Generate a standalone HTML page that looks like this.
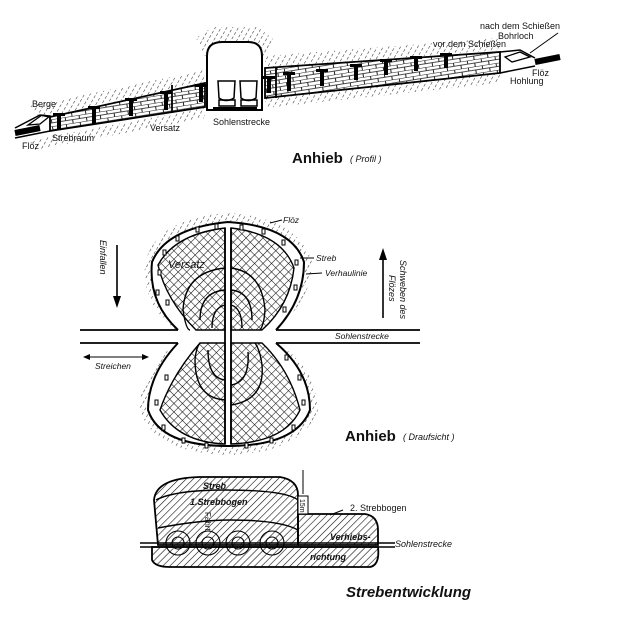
<!DOCTYPE html>
<html><head><meta charset="utf-8"><style>
html,body{margin:0;padding:0;background:#fff;}
svg{display:block}
text{font-family:"Liberation Sans",sans-serif;fill:#111}
</style></head><body>
<svg width="617" height="620" viewBox="0 0 617 620" xmlns="http://www.w3.org/2000/svg">
<defs>
<pattern id="diag" width="5" height="5" patternUnits="userSpaceOnUse" patternTransform="rotate(45)">
<line x1="0" y1="0" x2="0" y2="5" stroke="#111" stroke-width="1.2"/></pattern>
<pattern id="rock" width="5" height="5" patternUnits="userSpaceOnUse" patternTransform="rotate(30)">
<line x1="0" y1="0" x2="0" y2="3" stroke="#333" stroke-width="1.1"/></pattern>
<pattern id="cross" width="6" height="6" patternUnits="userSpaceOnUse" patternTransform="rotate(45)">
<line x1="0" y1="0" x2="0" y2="6" stroke="#111" stroke-width="1.1"/>
<line x1="0" y1="0" x2="6" y2="0" stroke="#111" stroke-width="1.1"/></pattern>
<pattern id="brick" width="14" height="7" patternUnits="userSpaceOnUse" patternTransform="rotate(-9)">
<rect width="14" height="7" fill="#fff"/>
<line x1="0" y1="0" x2="14" y2="0" stroke="#222" stroke-width="1"/>
<line x1="4" y1="0" x2="4" y2="3.5" stroke="#222" stroke-width="1"/>
<line x1="0" y1="3.5" x2="14" y2="3.5" stroke="#222" stroke-width="0.8"/>
<line x1="11" y1="3.5" x2="11" y2="7" stroke="#222" stroke-width="1"/></pattern>
</defs>

<!-- ===== PROFILE ===== -->
<polygon points="30,106 205,70 205,82 40,118" fill="url(#rock)"/>
<polygon points="265,56 500,38 500,50 265,68" fill="url(#rock)"/>
<polygon points="196,38 213,27 258,27 274,40 265,56 205,56" fill="url(#rock)"/>
<polygon points="30,140 205,108 205,118 35,150" fill="url(#rock)"/>
<polygon points="265,98 500,73 500,83 265,108" fill="url(#rock)"/>
<polygon points="50,117 205,83 205,107 50,131" fill="url(#brick)" stroke="#000" stroke-width="1.8"/>
<polygon points="265,68 500,52 500,73 265,98" fill="url(#brick)" stroke="#000" stroke-width="1.8"/>
<polyline points="15,133 40,128" stroke="#000" stroke-width="6"/>
<polyline points="15,128 40,115 50,117" fill="none" stroke="#000" stroke-width="1.5"/>
<polyline points="15,138 50,131" fill="none" stroke="#000" stroke-width="1.5"/>
<polygon points="28,125 42,115 50,116 40,124" fill="none" stroke="#000" stroke-width="1.3"/>
<polyline points="535,62 560,57" stroke="#000" stroke-width="6"/>
<polyline points="500,52 520,50 535,58" fill="none" stroke="#000" stroke-width="1.5"/>
<polyline points="500,73 535,66" fill="none" stroke="#000" stroke-width="1.5"/>
<polygon points="505,57 520,52 530,57 512,62" fill="none" stroke="#000" stroke-width="1.3"/>
<g fill="#000">
<rect x="53" y="113" width="12" height="3"/><rect x="57" y="114" width="4" height="16"/>
<rect x="88" y="106" width="12" height="3"/><rect x="92" y="107" width="4" height="17"/>
<rect x="125" y="98" width="12" height="3"/><rect x="129" y="99" width="4" height="17"/>
<rect x="160" y="91" width="12" height="3"/><rect x="164" y="92" width="4" height="18"/>
<rect x="195" y="84" width="12" height="3"/><rect x="199" y="85" width="4" height="17"/>
<rect x="263" y="76" width="12" height="3"/><rect x="267" y="77" width="4" height="16"/>
<rect x="283" y="72" width="12" height="3"/><rect x="287" y="73" width="4" height="18"/>
<rect x="316" y="69" width="12" height="3"/><rect x="320" y="70" width="4" height="16"/>
<rect x="350" y="64" width="12" height="3"/><rect x="354" y="65" width="4" height="15"/>
<rect x="380" y="59" width="12" height="3"/><rect x="384" y="60" width="4" height="15"/>
<rect x="410" y="56" width="12" height="3"/><rect x="414" y="57" width="4" height="14"/>
<rect x="440" y="53" width="12" height="3"/><rect x="444" y="54" width="4" height="14"/>
</g>
<line x1="172" y1="85" x2="172" y2="113" stroke="#000" stroke-width="1.8"/>
<line x1="276" y1="67" x2="276" y2="98" stroke="#000" stroke-width="1.8"/>
<path d="M207,110 L207,56 Q207,42 222,42 L248,42 Q262,42 262,56 L262,110 Z" fill="#fff" stroke="#000" stroke-width="2"/>
<g fill="none" stroke="#000" stroke-width="1.5">
<path d="M218,81 L235,81 L234,98 Q226,103 219,98 Z"/><rect x="219" y="100" width="16" height="6"/>
<path d="M240,81 L257,81 L256,98 Q248,103 241,98 Z"/><rect x="241" y="100" width="16" height="6"/>
</g>
<line x1="213" y1="108" x2="257" y2="108" stroke="#000" stroke-width="2"/>
<line x1="500" y1="52" x2="500" y2="70" stroke="#000"/>
<g font-size="9">
<text x="32" y="107">Berge</text>
<text x="22" y="149">Flöz</text>
<text x="52" y="141">Strebraum</text>
<text x="150" y="131">Versatz</text>
<text x="213" y="125">Sohlenstrecke</text>
<text x="433" y="47">vor dem Schießen</text>
<text x="480" y="29">nach dem Schießen</text>
<text x="498" y="39">Bohrloch</text>
<text x="510" y="84">Hohlung</text>
<text x="532" y="76">Flöz</text>
</g>
<line x1="558" y1="33" x2="530" y2="53" stroke="#000"/>
<text x="292" y="163" font-size="15" font-weight="bold">Anhieb</text>
<text x="350" y="162" font-size="9" font-style="italic">( Profil )</text>

<!-- ===== PLAN VIEW ===== -->
<path d="M176,330 Q138,300 146,260 Q158,218 228,213 Q297,217 312,262 Q312,300 275,330 Z" fill="url(#rock)"/>
<path d="M176,343 Q138,375 140,410 Q153,453 228,455 Q302,453 318,410 Q318,370 278,343 Z" fill="url(#rock)"/>
<path d="M178,330 Q148,302 152,262 Q166,228 228,222 Q292,226 304,262 Q304,300 276,330" fill="#fff" stroke="#000" stroke-width="2"/>
<path d="M178,343 Q148,375 148,410 Q160,446 228,446 Q296,446 310,410 Q310,372 276,343" fill="#fff" stroke="#000" stroke-width="2"/>
<path d="M196,330 Q166,300 158,265 Q175,234 225,228 L225,330 Z" fill="url(#cross)" stroke="#000" stroke-width="1.4"/>
<path d="M231,330 L231,228 Q282,234 294,268 Q290,305 262,330 Z" fill="url(#cross)" stroke="#000" stroke-width="1.4"/>
<path d="M200,343 Q172,375 160,410 Q178,442 225,444 L225,343 Z" fill="url(#cross)" stroke="#000" stroke-width="1.4"/>
<path d="M231,343 L231,444 Q285,442 300,410 Q290,370 262,343 Z" fill="url(#cross)" stroke="#000" stroke-width="1.4"/>
<g fill="none" stroke="#000" stroke-width="1.4">
<path d="M225,268 Q185,272 183,310 Q186,330 190,330"/><path d="M225,290 Q200,292 200,320"/><path d="M225,305 Q212,308 212,328"/>
<path d="M231,268 Q262,272 265,310 Q264,325 260,330"/><path d="M231,290 Q252,292 252,320"/><path d="M231,305 Q242,308 242,328"/>
<path d="M225,400 Q195,398 195,360 Q196,348 200,343"/><path d="M225,380 Q208,378 208,350"/>
<path d="M231,405 Q265,400 262,365 Q260,350 255,343"/><path d="M231,385 Q250,382 248,352"/>
</g>
<g fill="#fff" stroke="#000" stroke-width="1">
<rect x="158" y="270" width="3" height="5"/><rect x="163" y="250" width="3" height="5"/><rect x="176" y="236" width="3" height="5"/><rect x="196" y="227" width="3" height="5"/><rect x="215" y="224" width="3" height="5"/>
<rect x="240" y="225" width="3" height="5"/><rect x="262" y="229" width="3" height="5"/><rect x="282" y="240" width="3" height="5"/><rect x="295" y="260" width="3" height="5"/><rect x="294" y="285" width="3" height="5"/><rect x="283" y="307" width="3" height="5"/>
<rect x="166" y="300" width="3" height="5"/><rect x="156" y="290" width="3" height="5"/>
<rect x="165" y="375" width="3" height="5"/><rect x="155" y="400" width="3" height="5"/><rect x="162" y="425" width="3" height="5"/><rect x="182" y="438" width="3" height="5"/><rect x="205" y="443" width="3" height="5"/>
<rect x="245" y="443" width="3" height="5"/><rect x="270" y="438" width="3" height="5"/><rect x="292" y="425" width="3" height="5"/><rect x="302" y="400" width="3" height="5"/><rect x="298" y="375" width="3" height="5"/><rect x="285" y="355" width="3" height="5"/>
</g>
<text x="168" y="268" font-size="11" font-style="italic">Versatz</text>
<line x1="80" y1="330" x2="178" y2="330" stroke="#000" stroke-width="1.8"/>
<line x1="276" y1="330" x2="420" y2="330" stroke="#000" stroke-width="1.8"/>
<line x1="80" y1="343" x2="178" y2="343" stroke="#000" stroke-width="1.8"/>
<line x1="276" y1="343" x2="420" y2="343" stroke="#000" stroke-width="1.8"/>
<line x1="225" y1="228" x2="225" y2="444" stroke="#000" stroke-width="1.8"/>
<line x1="231" y1="228" x2="231" y2="444" stroke="#000" stroke-width="1.8"/>
<g font-size="8.5" font-style="italic">
<text x="335" y="339">Sohlenstrecke</text>
<text x="283" y="223">Flöz</text>
<text x="316" y="261">Streb</text>
<text x="325" y="276">Verhaulinie</text>
<text x="95" y="369">Streichen</text>
</g>
<line x1="270" y1="223" x2="282" y2="220" stroke="#000"/>
<line x1="300" y1="258" x2="314" y2="258" stroke="#000"/>
<line x1="306" y1="274" x2="322" y2="273" stroke="#000"/>
<text font-size="9" font-style="italic" transform="translate(100,240) rotate(90)">Einfallen</text>
<line x1="117" y1="245" x2="117" y2="300" stroke="#000" stroke-width="1.6"/>
<polygon points="113,296 121,296 117,308" fill="#000"/>
<text font-size="9" font-style="italic" transform="translate(400,260) rotate(90)">Schweben des</text>
<text font-size="9" font-style="italic" transform="translate(389,275) rotate(90)">Flözes</text>
<line x1="383" y1="258" x2="383" y2="318" stroke="#000" stroke-width="1.6"/>
<polygon points="379,260 387,260 383,248" fill="#000"/>
<line x1="86" y1="357" x2="146" y2="357" stroke="#000"/>
<polygon points="83,357 90,354 90,360" fill="#000"/><polygon points="149,357 142,354 142,360" fill="#000"/>
<text x="345" y="441" font-size="15" font-weight="bold">Anhieb</text>
<text x="403" y="440" font-size="9" font-style="italic">( Draufsicht )</text>

<!-- ===== STREB ===== -->
<path d="M158,545 L154,500 Q156,478 200,477 L280,477 Q298,480 298,495 L298,545 Z" fill="url(#diag)" stroke="#000" stroke-width="1.8"/>
<path d="M298,545 L298,514 L365,514 Q378,516 378,530 L378,545 Z" fill="url(#diag)" stroke="#000" stroke-width="1.8"/>
<path d="M152,547 L152,560 Q155,567 170,567 L370,567 Q380,565 378,547 Z" fill="url(#diag)" stroke="#000" stroke-width="1.8"/>
<path d="M156,500 Q175,490 225,490 Q285,490 298,500" fill="none" stroke="#000" stroke-width="1.4"/>
<path d="M158,528 Q200,520 230,520 Q280,520 298,530" fill="none" stroke="#000" stroke-width="1.4"/>
<g fill="none" stroke="#000" stroke-width="1.1">
<circle cx="178" cy="543" r="6"/><circle cx="178" cy="543" r="12"/>
<circle cx="208" cy="543" r="6"/><circle cx="208" cy="543" r="12"/>
<circle cx="238" cy="543" r="6"/><circle cx="238" cy="543" r="12"/>
<circle cx="272" cy="543" r="6"/><circle cx="272" cy="543" r="12"/>
</g>
<line x1="140" y1="543" x2="395" y2="543" stroke="#000" stroke-width="1.5"/>
<line x1="140" y1="547" x2="395" y2="547" stroke="#000" stroke-width="1.5"/>
<rect x="298" y="496" width="10" height="18" fill="#fff" stroke="#000"/>
<text font-size="7" transform="translate(300,499) rotate(90)">15m</text>
<line x1="303" y1="470" x2="303" y2="494" stroke="#000"/>
<g font-size="9" font-style="italic" font-weight="bold">
<text x="203" y="489">Streb</text>
<text x="190" y="505">1.Strebbogen</text>
<text x="330" y="540">Verhiebs-</text>
<text x="310" y="560">richtung</text>
</g>
<text font-size="8" transform="translate(205,512) rotate(90)">Fahrt</text>
<text x="350" y="511" font-size="9">2. Strebbogen</text>
<line x1="343" y1="510" x2="330" y2="515" stroke="#000"/>
<text x="395" y="547" font-size="9" font-style="italic">Sohlenstrecke</text>
<text x="346" y="597" font-size="15" font-weight="bold" font-style="italic">Strebentwicklung</text>
</svg>
</body></html>
